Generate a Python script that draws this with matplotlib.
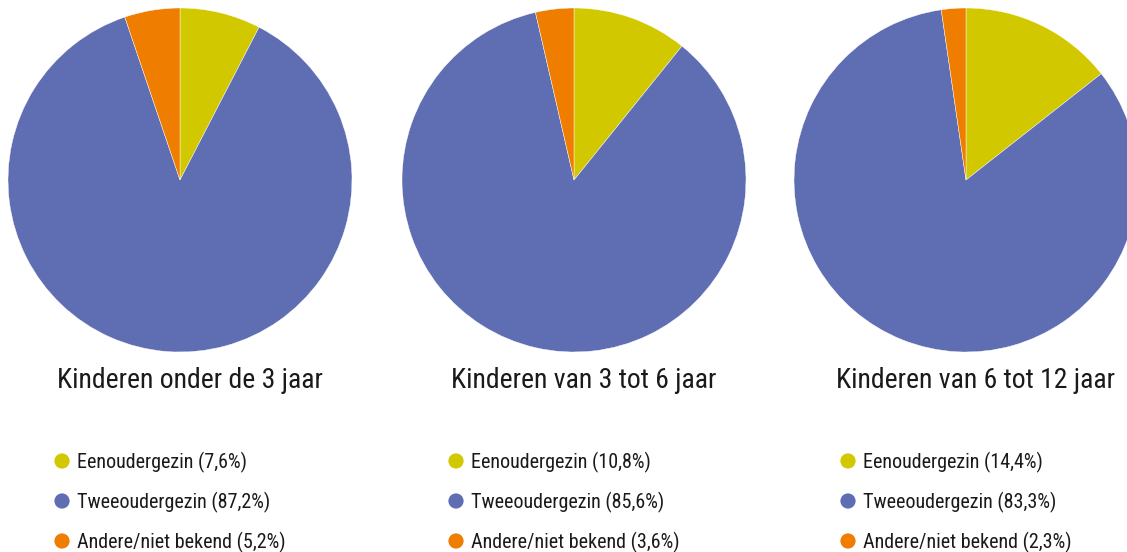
import matplotlib
matplotlib.use("Agg")
import matplotlib.pyplot as plt

categories = ["Eenoudergezin", "Tweeoudergezin", "Andere/niet bekend"]
titles = ["Kinderen onder de 3 jaar", "Kinderen van 3 tot 6 jaar", "Kinderen van 6 tot 12 jaar"]
values_u3 = [7.6, 87.2, 5.2]
values_3_6 = [10.8, 85.6, 3.6]
values_6_12 = [14.4, 83.3, 2.3]
colors = ["#D2C800", "#5F6DB3", "#EE7D00"]

plt.rcParams['font.family'] = ["Roboto Condensed", "DejaVu Sans"]

W, H = 1127, 552
fig = plt.figure(figsize=(W/100, H/100), dpi=100)

series = [values_u3, values_3_6, values_6_12]
centers = [180, 574, 966]
R = 172
cy = 180

def fx(px): return px / W
def fy(py): return 1 - py / H

for vals, cx in zip(series, centers):
    ax = fig.add_axes([fx(cx - R), fy(cy + R), 2*R/W, 2*R/H])
    ax.pie(vals, colors=colors, startangle=90, counterclock=False,
           wedgeprops=dict(edgecolor="white", linewidth=0.3))
    ax.set_xlim(-1, 1); ax.set_ylim(-1, 1)
    ax.set_aspect("equal")
    ax.axis("off")

ov = fig.add_axes([0, 0, 1, 1])
ov.set_xlim(0, W); ov.set_ylim(H, 0)
ov.axis("off")
ov.patch.set_alpha(0)

for vals, cx, title in zip(series, centers, titles):
    ov.text(cx + 10, 381, title, ha="center", va="center", fontsize=20, color="#1a1a1a")
    for i, (cat, v) in enumerate(zip(categories, vals)):
        y = 461 + 40 * i
        ov.scatter([cx - 118], [y], s=120, color=colors[i], edgecolors="none")
        lab = f"{cat} ({str(v).replace('.', ',')}%)"
        ov.text(cx - 103, y + 1, lab, ha="left", va="center", fontsize=14.5, color="#1a1a1a")

fig.savefig("out.png", dpi=100)
